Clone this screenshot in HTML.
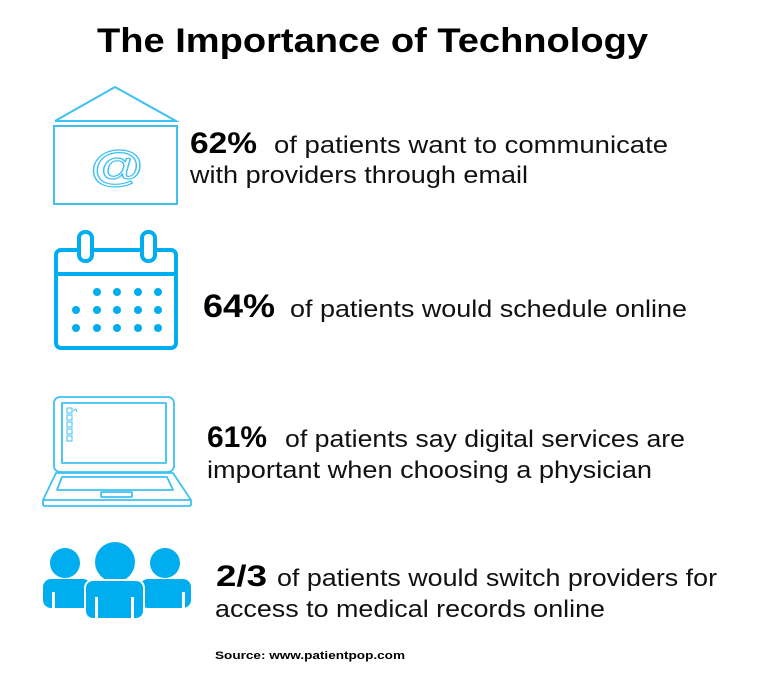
<!DOCTYPE html>
<html>
<head>
<meta charset="utf-8">
<style>
  html,body{margin:0;padding:0;background:#fff;}
  svg{display:block;}
  text{font-family:"Liberation Sans",Arial,sans-serif;fill:#111;}
  .b{font-weight:bold;fill:#000;}
</style>
</head>
<body>
<svg width="768" height="678" viewBox="0 0 768 678" xmlns="http://www.w3.org/2000/svg">
  <rect width="768" height="678" fill="#fff"/>

  <!-- Title -->
  <text class="b" x="97" y="52" font-size="34" textLength="551" lengthAdjust="spacingAndGlyphs">The Importance of Technology</text>

  <!-- Envelope icon -->
  <g fill="none" stroke="#3ec0f2" stroke-width="2">
    <polyline points="55,121 115,87 176,121 55,121"/>
    <rect x="54" y="126" width="123" height="78"/>
  </g>
  <text transform="translate(117,181) scale(1.05,0.82)" x="0" y="0" font-size="52" text-anchor="middle" style="fill:none;stroke:#3ec0f2;stroke-width:1.4">@</text>

  <!-- Text 1 -->
  <text class="b" x="190" y="153" font-size="30" textLength="67" lengthAdjust="spacingAndGlyphs">62%</text>
  <text x="274" y="153" font-size="24" textLength="394" lengthAdjust="spacingAndGlyphs">of patients want to communicate</text>
  <text x="190" y="183" font-size="24" textLength="338" lengthAdjust="spacingAndGlyphs">with providers through email</text>

  <!-- Calendar icon -->
  <g fill="none" stroke="#00aeef" stroke-width="4">
    <rect x="56" y="250" width="120" height="98" rx="5"/>
    <line x1="56" y1="274" x2="176" y2="274"/>
  </g>
  <g fill="#fff" stroke="#00aeef" stroke-width="4">
    <rect x="79" y="232" width="13" height="29" rx="6"/>
    <rect x="142" y="232" width="13" height="29" rx="6"/>
  </g>
  <g fill="#00aeef">
    <circle cx="97" cy="292" r="4"/><circle cx="117" cy="292" r="4"/><circle cx="138" cy="292" r="4"/><circle cx="158" cy="292" r="4"/>
    <circle cx="76" cy="310" r="4"/><circle cx="97" cy="310" r="4"/><circle cx="117" cy="310" r="4"/><circle cx="138" cy="310" r="4"/><circle cx="158" cy="310" r="4"/>
    <circle cx="76" cy="328" r="4"/><circle cx="97" cy="328" r="4"/><circle cx="117" cy="328" r="4"/><circle cx="138" cy="328" r="4"/><circle cx="158" cy="328" r="4"/>
  </g>

  <!-- Text 2 -->
  <text class="b" x="203" y="317" font-size="32" textLength="72" lengthAdjust="spacingAndGlyphs">64%</text>
  <text x="290" y="317" font-size="24" textLength="397" lengthAdjust="spacingAndGlyphs">of patients would schedule online</text>

  <!-- Laptop icon -->
  <g fill="none" stroke="#3ec0f2" stroke-width="1.8" stroke-linejoin="round">
    <rect x="54" y="397" width="120" height="75" rx="6"/>
    <rect x="62" y="403" width="104" height="60"/>
    <path d="M56,473 L173,473 L191,500 L191,504 Q191,506 189,506 L45,506 Q43,506 43,504 L43,500 Z"/>
    <line x1="43" y1="500" x2="191" y2="500"/>
    <path d="M62,477 L167,477 L173,490 L57,490 Z"/>
    <rect x="101" y="492" width="31" height="5" rx="1"/>
  </g>
  <g fill="none" stroke="#3ec0f2" stroke-width="1">
    <rect x="67" y="408" width="5" height="5"/>
    <rect x="67" y="415" width="5" height="5"/>
    <rect x="67" y="422" width="5" height="5"/>
    <rect x="67" y="429" width="5" height="5"/>
    <rect x="67" y="436" width="5" height="5"/>
    <path d="M73,411 l3,-2 l1,3"/>
  </g>

  <!-- Text 3 -->
  <text class="b" x="207" y="447" font-size="30" textLength="60" lengthAdjust="spacingAndGlyphs">61%</text>
  <text x="285" y="447" font-size="24" textLength="400" lengthAdjust="spacingAndGlyphs">of patients say digital services are</text>
  <text x="207" y="478" font-size="24" textLength="445" lengthAdjust="spacingAndGlyphs">important when choosing a physician</text>

  <!-- People icon -->
  <g fill="#00aeef">
    <circle cx="65" cy="563" r="15"/>
    <circle cx="165" cy="563" r="15"/>
    <rect x="43" y="579" width="48" height="29" rx="8"/>
    <rect x="140" y="579" width="51" height="29" rx="8"/>
  </g>
  <g fill="#fff">
    <rect x="52" y="592" width="3" height="17"/>
    <rect x="182" y="592" width="3" height="17"/>
  </g>
  <circle cx="115" cy="562" r="20" fill="#00aeef"/>
  <rect x="85" y="580" width="59" height="39" rx="8" fill="#00aeef" stroke="#fff" stroke-width="2"/>
  <g fill="#fff">
    <rect x="95" y="597" width="3" height="23"/>
    <rect x="131" y="597" width="3" height="23"/>
  </g>

  <!-- Text 4 -->
  <text class="b" x="216" y="586" font-size="30" textLength="51" lengthAdjust="spacingAndGlyphs">2/3</text>
  <text x="277" y="586" font-size="24" textLength="440" lengthAdjust="spacingAndGlyphs">of patients would switch providers for</text>
  <text x="215" y="617" font-size="24" textLength="390" lengthAdjust="spacingAndGlyphs">access to medical records online</text>

  <!-- Source -->
  <text class="b" x="215" y="659" font-size="11" textLength="190" lengthAdjust="spacingAndGlyphs">Source: www.patientpop.com</text>
</svg>
</body>
</html>
